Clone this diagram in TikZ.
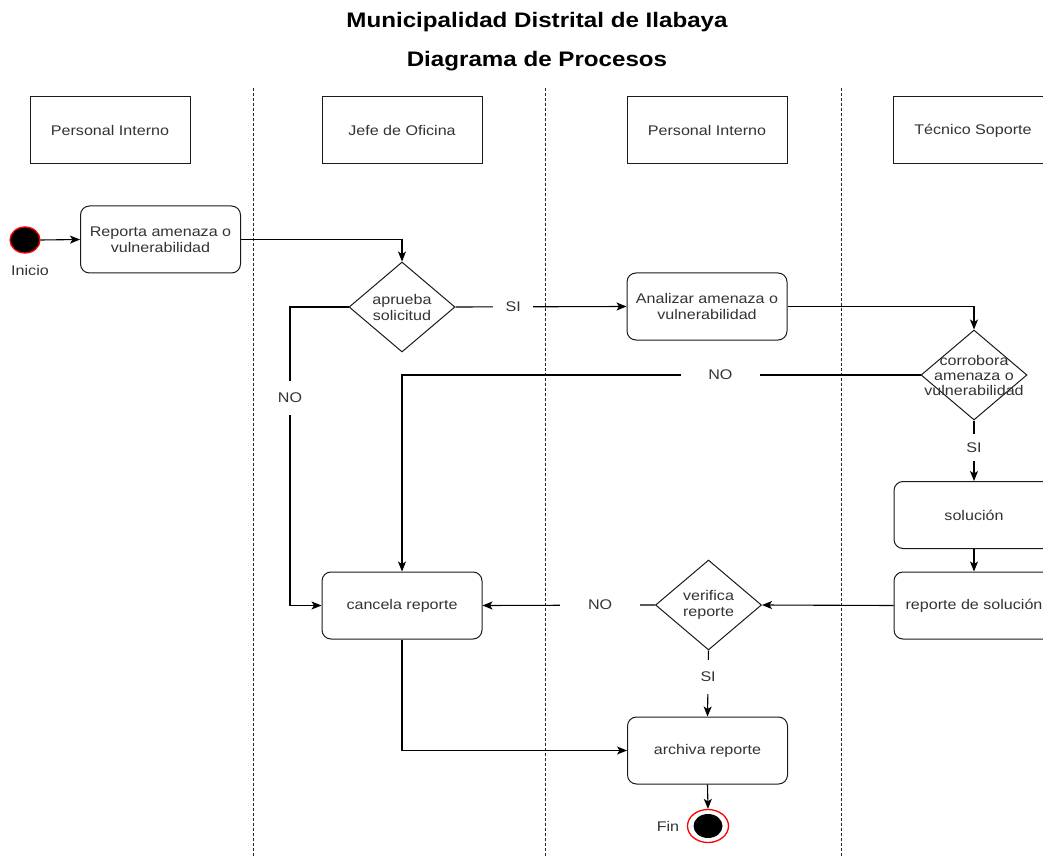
\documentclass[tikz,border=0pt]{standalone}
\usepackage{fontspec}
\setmainfont{Liberation Sans}[FakeStretch=1.15]
\usetikzlibrary{shapes.geometric,arrows.meta}
\definecolor{ink}{HTML}{333333}
\definecolor{edge}{HTML}{1A1A1A}

\begin{document}
\begin{tikzpicture}[x=1pt,y=-1pt,
  font=\fontsize{14pt}{16pt}\selectfont,
  titlefont/.style={font=\fontsize{21pt}{24pt}\selectfont\bfseries, text=black, anchor=base},
  hdr/.style={draw=edge, line width=1pt, fill=white, minimum width=160pt, minimum height=67pt, text=ink, inner sep=0pt},
  task/.style={draw=edge, line width=1pt, fill=white, rounded corners=9pt, minimum width=160pt, minimum height=67pt, text=ink, align=center, inner sep=0pt},
  choice/.style={draw=edge, line width=1pt, fill=white, diamond, minimum width=106pt, minimum height=90pt, inner sep=0pt},
  lane/.style={draw=black!85, line width=0.9pt, dash pattern=on 3pt off 2pt},
  arr/.style={draw=black, line width=1.1pt, -{Stealth[length=10pt,width=8pt,inset=2.5pt]}},
  lbl/.style={fill=white, inner sep=0pt, text=ink},
  caption/.style={text=ink}
]
\clip (0,0) rectangle (1043,858);

% swimlane separators
\draw[lane] (253,88) -- (253,858);
\draw[lane] (545,88) -- (545,858);
\draw[lane] (841,88) -- (841,858);

% title
\node[titlefont] (title) at (537,28) {Municipalidad Distrital de Ilabaya};
\node[titlefont] (subtitle) at (537,67) {Diagrama de Procesos};

% lane headers
\node[hdr] (hA) at (110,130.5) {Personal Interno};
\node[hdr] (hB) at (402,130.5) {Jefe de Oficina};
\node[hdr] (hC) at (707,130.5) {Personal Interno};
\node[hdr] (hD) at (973,130.5) {Técnico Soporte};

% start
\node[ellipse, draw=red, fill=black, line width=1.3pt, minimum width=30pt, minimum height=26pt, inner sep=0pt] (ini) at (25,240) {};
\node[caption] (iniLbl) at (30,270) {Inicio};

% activities and decisions
\node[task] (reporta) at (160.5,239.5) {Reporta amenaza o\\vulnerabilidad};
\node[choice, label={[align=center,text=ink]center:aprueba\\solicitud}] (aprueba) at (402,307) {};
\node[task] (analizar) at (707,306.5) {Analizar amenaza o\\vulnerabilidad};
\node[choice, label={[align=center,text=ink,font=\fontsize{14pt}{15pt}\selectfont]center:corrobora\\amenaza o\\vulnerabilidad}] (corrobora) at (974,375) {};
\node[task] (solucion) at (974,515) {solución};
\node[task] (reporte) at (974,605.5) {reporte de solución};
\node[choice, label={[align=center,text=ink]center:verifica\\reporte}] (verifica) at (708.5,605) {};
\node[task] (cancela) at (402,605.5) {cancela reporte};
\node[task] (archiva) at (707.5,750.5) {archiva reporte};

% end
\node[ellipse, draw=red, fill=white, line width=1.3pt, minimum width=41pt, minimum height=33pt, inner sep=0pt] (fin) at (708,826) {};
\node[ellipse, fill=black, minimum width=29pt, minimum height=24pt, inner sep=0pt] (finDot) at (fin.center) {};
\node[caption] (finLbl) at (668,826) {Fin};

% flow
\coordinate (bend) at (290,307);
\draw[arr] (ini.east) -- (reporta.west);
\draw[arr] (reporta.east) -| (aprueba.north);
\draw[arr] (aprueba.east) -- node[lbl, pos=0.337, minimum width=40pt] (siA) {SI} (analizar.west);
\draw[arr] (analizar.east) -| (corrobora.north);
\draw[arr] (corrobora.west) -| node[lbl, pos=0.193, minimum width=79pt] (noA) {NO} (cancela.north);
\draw[arr] (aprueba.west) -- (bend) |- node[lbl, pos=0.152, minimum height=34pt] (noB) {NO} (cancela.west);
\draw[arr] (cancela.south) |- (archiva.west);
\draw[arr] (corrobora.south) -- node[lbl, pos=0.45, minimum height=27pt] (siB) {SI} (solucion.north);
\draw[arr] (solucion.south) -- (reporte.north);
\draw[arr] (reporte.west) -- (verifica.east);
\draw[arr] (verifica.west) -- node[lbl, pos=0.318, minimum width=80pt] (noC) {NO} (cancela.east);
\draw[arr] (verifica.south) -- node[lbl, pos=0.4, minimum height=34pt] (siC) {SI} (archiva.north);
\draw[arr] (archiva.south) -- (fin.north);
\end{tikzpicture}
\end{document}
